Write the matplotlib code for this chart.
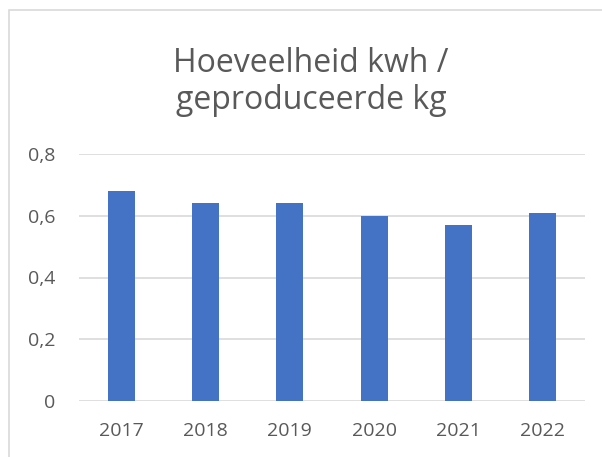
import matplotlib.pyplot as plt
from matplotlib.patches import Rectangle

# Data
jaren = ['2017', '2018', '2019', '2020', '2021', '2022']
kwh_per_kg = [0.68, 0.64, 0.64, 0.60, 0.57, 0.61]
y_ticks = [0, 0.2, 0.4, 0.6, 0.8]
y_labels = ['0', '0,2', '0,4', '0,6', '0,8']

plt.rcParams['font.family'] = ['Open Sans', 'DejaVu Sans']
grey = '#595959'

fig = plt.figure(figsize=(6.02, 4.57), dpi=100)
ax = fig.add_axes([79 / 602, 56 / 457, 506 / 602, 247 / 457])

ax.bar(range(len(jaren)), kwh_per_kg, width=0.32, color='#4472C4', zorder=3)

ax.set_xlim(-0.5, len(jaren) - 0.5)
ax.set_ylim(0, 0.8)
ax.set_xticks(range(len(jaren)))
ax.set_xticklabels(jaren)
ax.set_yticks(y_ticks)
ax.set_yticklabels(y_labels)
ax.tick_params(axis='both', length=0, labelsize=14, colors=grey)
ax.tick_params(axis='x', pad=15)
ax.tick_params(axis='y', pad=17)
ax.grid(axis='y', color='#D9D9D9', linewidth=1.2, zorder=0)
for s in ax.spines.values():
    s.set_visible(False)

fig.text(311 / 602, 1 - 82 / 457, 'Hoeveelheid kwh /\ngeproduceerde kg', ha='center',
         va='center', fontsize=23, color=grey, linespacing=1.15)

# chart border
fig.patches.append(Rectangle((8.5 / 602, -0.1), 1.2, 1 - 10 / 457 + 0.1, transform=fig.transFigure,
                             fill=False, edgecolor='#D9D9D9', linewidth=1.2))

fig.savefig('out.png', dpi=100)
